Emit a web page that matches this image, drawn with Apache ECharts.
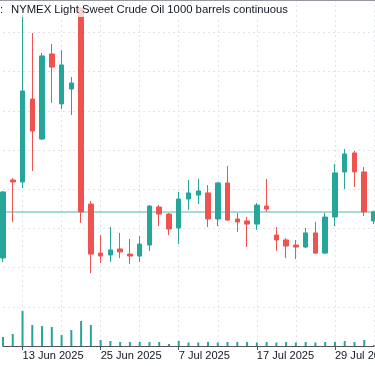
<!DOCTYPE html>
<html><head><meta charset="utf-8">
<script src="https://cdn.jsdelivr.net/npm/echarts@6/dist/echarts.min.js"></script>
<style>html,body{margin:0;padding:0;background:#fff}#c{width:375px;height:366px}</style>
</head><body><div id="c"></div>
<script>
const titleText = 'NYMEX Light Sweet Crude Oil 1000 barrels continuous';
const dates = ['11 Jun 2025','12 Jun 2025','13 Jun 2025','16 Jun 2025','17 Jun 2025','18 Jun 2025','19 Jun 2025','20 Jun 2025','23 Jun 2025','24 Jun 2025','25 Jun 2025','26 Jun 2025','27 Jun 2025','30 Jun 2025',
  '1 Jul 2025','2 Jul 2025','3 Jul 2025','4 Jul 2025','7 Jul 2025','8 Jul 2025','9 Jul 2025','10 Jul 2025','11 Jul 2025','14 Jul 2025','15 Jul 2025','16 Jul 2025','17 Jul 2025','18 Jul 2025','21 Jul 2025','22 Jul 2025','23 Jul 2025','24 Jul 2025','25 Jul 2025','28 Jul 2025','29 Jul 2025','30 Jul 2025','31 Jul 2025',
  '1 Aug 2025','4 Aug 2025'];
const opens  = [62.49,66.47,66.37,70.60,68.56,72.90,70.35,71.11,75.24,65.24,62.74,62.64,62.95,62.69,62.59,63.15,65.09,64.73,64.02,65.50,65.70,65.81,64.48,66.32,64.48,64.38,64.22,65.14,63.66,63.41,63.15,63.05,63.77,62.74,64.58,66.88,67.85,66.88,64.38];
const closes = [65.86,66.37,71.01,68.97,72.80,72.23,72.34,71.42,64.84,62.69,62.59,62.90,62.80,62.59,63.20,65.14,64.73,63.97,65.50,65.81,65.91,64.48,66.32,64.43,64.33,64.22,65.19,64.99,63.41,63.10,63.05,63.77,62.74,64.58,66.83,67.80,66.88,64.84,64.84];
const lows   = [62.29,64.33,66.06,66.93,68.51,70.40,70.09,69.79,64.28,61.72,62.23,62.29,62.49,62.18,62.29,62.85,64.12,63.66,63.20,64.94,65.24,64.07,64.12,64.38,63.82,63.05,63.92,64.84,62.85,62.49,62.44,63.00,62.69,62.69,64.12,66.01,66.11,64.63,64.22];
const highs  = [65.91,66.57,74.89,73.97,72.95,73.41,73.10,71.72,75.24,65.40,63.66,64.07,63.77,63.46,63.61,65.19,65.19,64.79,65.86,66.47,66.52,66.21,66.37,67.18,64.79,64.59,65.30,66.52,64.07,63.51,63.41,64.02,64.33,64.79,67.29,68.05,67.95,67.13,64.90];
const volumes = [9,12,35,21,20,19,11,16,25,21,6,5,4,4,4,4,4,2,5,3.5,3.5,4,3.5,4,4,4,3.5,4,3.5,4,3.5,4,3.5,4,4,5,4,6,1];
const labelDates = ['13 Jun 2025','25 Jun 2025','7 Jul 2025','17 Jul 2025','29 Jul 2025'];

const UP = '#26a69a', DOWN = '#ef5350';
const FONT = '"Liberation Sans", Arial, sans-serif';
const firstLabel = dates.indexOf(labelDates[0]);
const candles = dates.map((d, i) => [opens[i], closes[i], lows[i], highs[i]]);
const lastClose = closes[closes.length - 1];

const chart = echarts.init(document.getElementById('c'), null, {renderer: 'canvas'});
chart.setOption({
  animation: false,
  backgroundColor: '#fff',
  title: {
    text: '{c|:}' + titleText,
    left: 0, top: 0,
    padding: [4, 4, 2, 0],
    backgroundColor: 'rgba(255,255,255,0.75)',
    textStyle: {
      fontFamily: FONT, fontSize: 11.3, fontWeight: 'normal', color: '#131722',
      rich: { c: { width: 11, fontFamily: FONT, fontSize: 11.3, color: '#131722' } }
    }
  },
  graphic: [{
    type: 'rect', left: 0, top: 0, z: 100,
    shape: { width: 375, height: 1 },
    style: { fill: '#9598a1' }
  }],
  grid: [{ left: 3, right: 1, top: 0, bottom: 20, outerBoundsMode: 'none', containLabel: false }],
  xAxis: [{
    type: 'category', data: dates, boundaryGap: false,
    axisLine: { show: true, lineStyle: { color: '#50535e', width: 1 } },
    axisTick: { show: true, length: 4, lineStyle: { color: '#50535e' },
      interval: (i, v) => labelDates.indexOf(v) >= 0 },
    axisLabel: { show: true, align: 'left', margin: 4, color: '#131722', fontFamily: FONT, fontSize: 11.1,
      hideOverlap: false,
      interval: (i, v) => labelDates.indexOf(v) >= 0 },
    splitLine: { show: true, interval: (i) => (i - firstLabel) % 4 === 0,
      lineStyle: { color: '#e0e3eb', type: [2, 3], width: 1 } }
  }],
  yAxis: [{
    type: 'value', min: 58, max: 75.653, interval: 2, scale: true,
    axisLine: { show: false }, axisTick: { show: false }, axisLabel: { show: false },
    splitLine: { show: true, lineStyle: { color: '#e0e3eb', type: [2, 3], width: 1 } }
  }, {
    type: 'value', min: 0, max: 346,
    axisLine: { show: false }, axisTick: { show: false }, axisLabel: { show: false },
    splitLine: { show: false }
  }],
  series: [{
    type: 'bar', name: 'Volume', xAxisIndex: 0, yAxisIndex: 1,
    data: volumes, barWidth: 2, itemStyle: { color: UP }, z: 1, silent: true
  }, {
    type: 'candlestick', name: 'CL', xAxisIndex: 0, yAxisIndex: 0,
    data: candles, barWidth: 5, clip: false, z: 3,
    itemStyle: { color: UP, color0: DOWN, borderColor: UP, borderColor0: DOWN, borderWidth: 1 },
    markLine: {
      silent: true, symbol: ['none', 'none'], label: { show: false }, z: 2,
      lineStyle: { color: 'rgba(38,166,154,0.4)', width: 2, type: 'solid' },
      data: [{ yAxis: lastClose }]
    }
  }]
});
</script></body></html>
